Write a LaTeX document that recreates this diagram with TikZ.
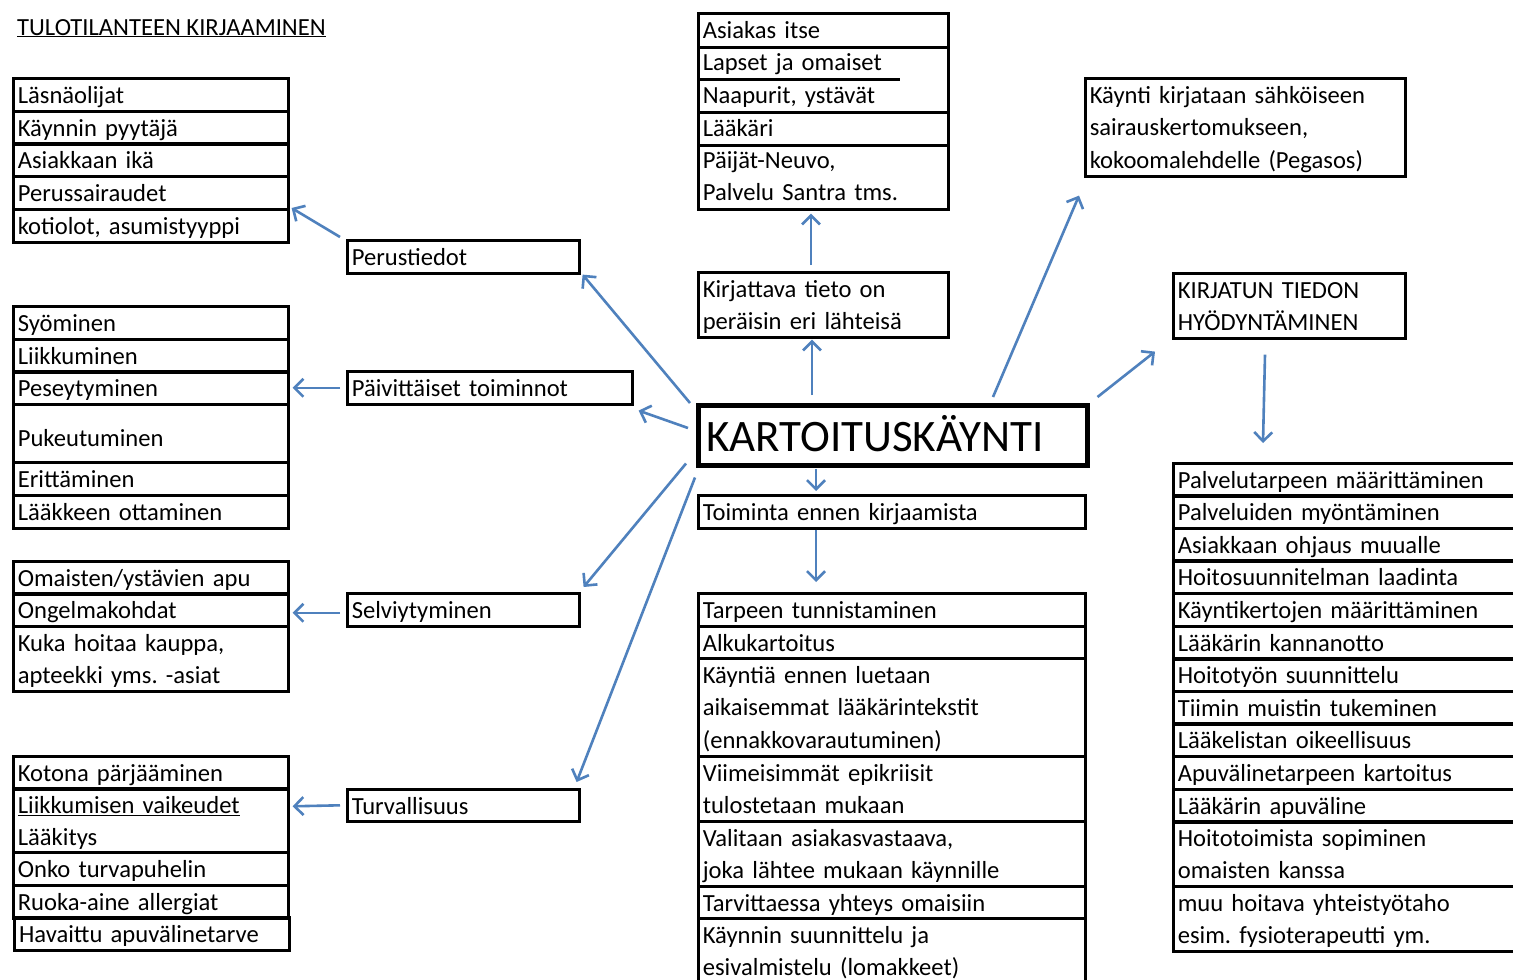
\documentclass[tikz,border=0pt]{standalone}
\usepackage{fontspec}
\setmainfont{Carlito}
\usetikzlibrary{arrows.meta}
\definecolor{linkblue}{RGB}{79,129,189}
\frenchspacing
\tikzset{
  cell/.style={draw, line width=2.6pt, anchor=north west, inner xsep=4.5pt,
               inner ysep=0pt, text height=25pt, align=left},
  txt/.style={cell, draw=none},
  sepline/.style={line width=2.6pt},
  one/.style={text depth=8pt},
  two/.style={text depth=40pt},
  three/.style={text depth=73pt},
  wL/.style={text width=266pt},
  wP/.style={text width=223pt},
  wD/.style={text width=276pt},
  wS/.style={text width=241pt},
  wM/.style={text width=378pt},
  wK/.style={text width=311pt},
  wR/.style={text width=339pt},
  arr/.style={draw=linkblue, line width=2.6pt, -{Straight Barb[length=9pt,width=18pt]}}
}
\begin{document}
\begin{tikzpicture}[x=1pt, y=-1pt, font=\fontsize{24.6}{32.5}\selectfont]
\fill[white] (0,0) rectangle (1513,980);
\useasboundingbox (0,0) rectangle (1513,980);
\clip (0,0) rectangle (1513,980);

% heading
\node[anchor=base west, inner sep=0pt] (title) at (17,35) {\underline{TULOTILANTEEN KIRJAAMINEN}};

% ---- left: basic information ----
\node[cell, wL, one] (ls1) at (12,77)  {Läsnäolijat};
\node[cell, wL, one] (ls2) at (12,110) {Käynnin pyytäjä};
\node[cell, wL, one] (ls3) at (12,142) {Asiakkaan ikä};
\node[cell, wL, one] (ls4) at (12,175) {Perussairaudet};
\node[cell, wL, one] (ls5) at (12,208) {kotiolot, asumistyyppi};
\node[cell, wP, one] (perus) at (346,239) {Perustiedot};

% ---- left: daily activities ----
\node[cell, wL, one] (syo) at (12,305) {Syöminen};
\node[cell, wL, one] (lii) at (12,338) {Liikkuminen};
\node[cell, wL, one] (pes) at (12,370) {Peseytyminen};
\node[cell, wL, text height=42pt, text depth=16pt] (puk) at (12,403) {Pukeutuminen};
\node[cell, wL, one] (eri) at (12,461) {Erittäminen};
\node[cell, wL, one] (laa) at (12,494) {Lääkkeen ottaminen};
\node[cell, wD, one] (paiv) at (346,370) {Päivittäiset toiminnot};

% ---- left: coping ----
\node[cell, wL, one] (oma) at (12,560) {Omaisten/ystävien apu};
\node[cell, wL, one] (ong) at (12,592) {Ongelmakohdat};
\node[cell, wL, two] (kuka) at (12,625) {Kuka hoitaa kauppa,\\apteekki yms. -asiat};
\node[cell, wP, one] (selv) at (346,592) {Selviytyminen};

% ---- left: safety ----
\node[cell, wL, one] (kot) at (12,755) {Kotona pärjääminen};
\node[cell, wL, text depth=39pt] (lkv) at (12,787) {\underline{Liikkumisen vaikeudet}\\Lääkitys};
\node[cell, wL, one] (onk) at (12,851) {Onko turvapuhelin};
\node[cell, wL, one] (ruo) at (12,884) {Ruoka-aine allergiat};
\node[cell, wL, one, line width=3.2pt] (hav) at (13,916) {Havaittu apuvälinetarve};
\node[cell, wP, text depth=7pt] (turv) at (346,788) {Turvallisuus};

% ---- centre: sources of information ----
\node[cell, minimum width=250pt, minimum height=196pt] (srcbox) at (697,12) {};
\node[txt, wS, one] (src1) at (697,12)  {Asiakas itse};
\node[txt, wS, one] (src2) at (697,44)  {Lapset ja omaiset};
\node[txt, wS, one] (src3) at (697,77)  {Naapurit, ystävät};
\node[txt, wS, one] (src4) at (697,110) {Lääkäri};
\node[txt, wS, two] (src5) at (697,142) {Päijät-Neuvo,\\Palvelu Santra tms.};
\draw[sepline] (src1.south west) -- (src1.south east);
\draw[sepline] (src2.south west) -- ([xshift=-50pt]src2.south east);
\draw[sepline] (src3.south west) -- (src3.south east);
\draw[sepline] (src4.south west) -- (src4.south east);

\node[cell, wS, two] (kirj) at (697,271) {Kirjattava tieto on\\peräisin eri lähteisä};

% ---- centre: the visit ----
\node[cell, line width=4.5pt, font=\fontsize{45}{50}\selectfont, text width=373pt,
      inner xsep=8pt, text height=46pt, text depth=14pt] (kart) at (696,403) {KARTOITUSKÄYNTI};

\node[cell, wM, one] (toim) at (697,494) {Toiminta ennen kirjaamista};
\node[cell, wM, one] (tar) at (697,592) {Tarpeen tunnistaminen};
\node[cell, wM, text depth=7pt] (alk) at (697,625) {Alkukartoitus};
\node[cell, wM, three] (kay) at (697,657) {Käyntiä ennen luetaan\\aikaisemmat lääkärintekstit\\(ennakkovarautuminen)};
\node[cell, wM, two] (vii) at (697,755) {Viimeisimmät epikriisit\\tulostetaan mukaan};
\node[cell, wM, two] (val) at (697,820) {Valitaan asiakasvastaava,\\joka lähtee mukaan käynnille};
\node[cell, wM, text depth=7pt] (tarv) at (697,885) {Tarvittaessa yhteys omaisiin};
\node[cell, wM, text depth=45pt] (ksu) at (697,917) {Käynnin suunnittelu ja\\esivalmistelu (lomakkeet)};

% ---- right: recording and use ----
\node[cell, wK, three] (kayn) at (1084,77) {Käynti kirjataan sähköiseen\\sairauskertomukseen,\\kokoomalehdelle (Pegasos)};
\node[cell, wP, two] (hyod) at (1172,272) {KIRJATUN TIEDON\\HYÖDYNTÄMINEN};

\node[cell, wR, one] (pal1) at (1172,462) {Palvelutarpeen määrittäminen};
\node[cell, wR, one] (pal2) at (1172,494) {Palveluiden myöntäminen};
\node[cell, wR, one] (pal3) at (1172,527) {Asiakkaan ohjaus muualle};
\node[cell, wR, one] (pal4) at (1172,559) {Hoitosuunnitelman laadinta};
\node[cell, wR, one] (pal5) at (1172,592) {Käyntikertojen määrittäminen};
\node[cell, wR, one] (pal6) at (1172,625) {Lääkärin kannanotto};
\node[cell, wR, one] (pal7) at (1172,657) {Hoitotyön suunnittelu};
\node[cell, wR, one] (pal8) at (1172,690) {Tiimin muistin tukeminen};
\node[cell, wR, one] (pal9) at (1172,722) {Lääkelistan oikeellisuus};
\node[cell, wR, one] (pal10) at (1172,755) {Apuvälinetarpeen kartoitus};
\node[cell, wR, one] (pal11) at (1172,788) {Lääkärin apuväline};
\node[cell, wR, two] (pal12) at (1172,820) {Hoitotoimista sopiminen\\omaisten kanssa};
\node[cell, wR, two] (pal13) at (1172,885) {muu hoitava yhteistyötaho\\esim. fysioterapeutti ym.};

% ---- connectors ----
\draw[arr] ([xshift=-6pt]kart.north west) -- ([xshift=2pt]perus.south east);
\draw[arr] ([xshift=-8pt,yshift=-25pt]kart.north west) -- ([xshift=5pt,yshift=-5pt]paiv.south east);
\draw[arr] ([xshift=-10pt,yshift=4pt]kart.south west) -- ([xshift=3pt,yshift=5pt]selv.north east);
\draw[arr] ([xshift=-1pt,yshift=-10pt]kart.south west) -- ([xshift=-4pt,yshift=6pt]turv.north east);
\draw[arr] ([xshift=116pt,yshift=8pt]kart.north west) -- ([xshift=115pt,yshift=-1pt]kirj.south west);
\draw[arr] ([xshift=114pt,yshift=6pt]kirj.north west) -- ([xshift=114pt,yshift=-3pt]srcbox.south west);
\draw[arr] ([xshift=297pt,yshift=6pt]kart.north west) -- ([xshift=-5pt,yshift=-18pt]kayn.south west);
\draw[arr] ([xshift=8pt,yshift=6pt]kart.north east) -- ([xshift=-17pt,yshift=-12pt]hyod.south west);
\draw[arr] ([xshift=93pt,yshift=-15pt]hyod.south west) -- ([xshift=91pt,yshift=19pt]pal1.north west);
\draw[arr] ([xshift=120pt,yshift=-1pt]kart.south west) -- ([xshift=119pt,yshift=3pt]toim.north west);
\draw[arr] ([xshift=119pt]toim.south west) -- ([xshift=119pt,yshift=10pt]tar.north west);
\draw[arr] ([xshift=-6pt,yshift=2pt]perus.north west) -- ([xshift=2pt]ls5.north east);
\draw[arr] ([xshift=-6pt]paiv.west) -- ([xshift=3pt]pes.east);
\draw[arr] ([xshift=-6pt,yshift=-3pt]selv.west) -- ([xshift=3pt,yshift=-3pt]ong.east);
\draw[arr] ([xshift=-6pt]turv.west) -- ([xshift=3pt,yshift=14pt]lkv.east);
\end{tikzpicture}
\end{document}
